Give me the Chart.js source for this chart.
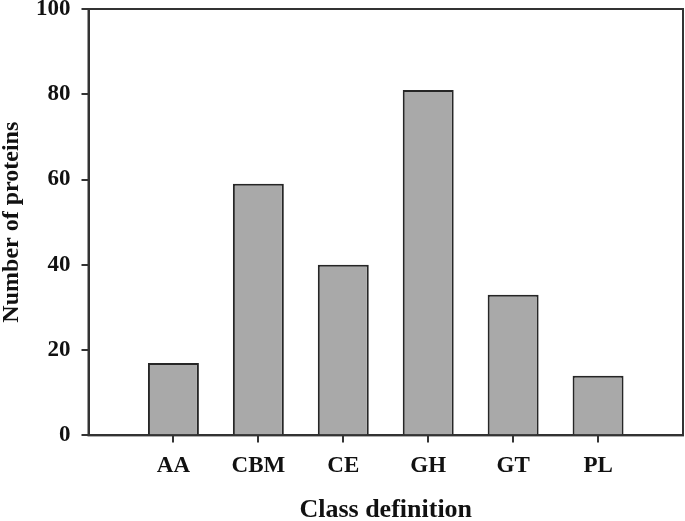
<!DOCTYPE html>
<html>
<head>
<meta charset="utf-8">
<script src="https://cdn.jsdelivr.net/npm/chart.js@4.4.1/dist/chart.umd.min.js"></script>
<style>
  html, body { margin: 0; padding: 0; background: #fff; }
  #wrap { width: 685px; height: 521px; }
</style>
</head>
<body>
<div id="wrap"><canvas id="classChart"></canvas></div>
<script>
// Class definition counts
var categories = ['AA', 'CBM', 'CE', 'GH', 'GT', 'PL'];
var proteinCounts = [17, 59, 40, 81, 33, 14];
var yTicks = [0, 20, 40, 60, 80, 100];

// empty slot on each side, like the original plot
var labels = [''].concat(categories, ['']);
var values = [null].concat(proteinCounts, [null]);

var serif = "'Liberation Serif', 'Times New Roman', serif";

// full box around the plot area
var frameBox = {
    id: 'frameBox',
    afterDatasetsDraw: function (chart) {
        var a = chart.chartArea;
        var ctx = chart.ctx;
        ctx.save();
        ctx.strokeStyle = '#333';
        ctx.lineWidth = 2;
        ctx.strokeRect(a.left, a.top, a.right - a.left, a.bottom - a.top);
        ctx.restore();
    }
};

var ctx = document.getElementById('classChart').getContext('2d');
var classChart = new Chart(ctx, {
    type: 'bar',
    data: {
        labels: labels,
        datasets: [{
            label: 'Number of proteins',
            data: values,
            backgroundColor: '#a9a9a9',
            borderColor: '#262626',
            borderWidth: 2,
            categoryPercentage: 1,
            barPercentage: 0.6
        }]
    },
    options: {
        responsive: true,
        maintainAspectRatio: false,
        animation: false,
        layout: { padding: { top: 9, right: 2, left: 0, bottom: 0 } },
        plugins: {
            legend: { display: false },
            tooltip: { enabled: false }
        },
        scales: {
            x: {
                type: 'category',
                offset: false,
                afterFit: function (s) { s.paddingLeft = 0; s.paddingRight = 0; },
                grid: {
                    offset: false,
                    drawOnChartArea: false,
                    tickLength: 7,
                    lineWidth: 2,
                    color: function (c) {
                        return (c.index === 0 || c.index === labels.length - 1) ? 'rgba(0,0,0,0)' : '#333';
                    }
                },
                border: { color: '#333', width: 2 },
                ticks: {
                    color: '#111',
                    padding: 10,
                    maxRotation: 0,
                    autoSkip: false,
                    font: { family: serif, size: 23, weight: 'bold' }
                },
                title: {
                    display: true,
                    text: 'Class definition',
                    color: '#111',
                    padding: { top: 7, bottom: -2 },
                    font: { family: serif, size: 26, weight: 'bold', lineHeight: 1 }
                }
            },
            y: {
                min: 0,
                max: 100,
                afterBuildTicks: function (axis) {
                    axis.ticks = yTicks.map(function (v) { return { value: v }; });
                },
                afterFit: function (s) { s.paddingTop = 0; s.paddingBottom = 0; },
                grid: {
                    drawOnChartArea: false,
                    tickLength: 7,
                    lineWidth: 2,
                    color: '#333'
                },
                border: { color: '#333', width: 2 },
                ticks: {
                    color: '#111',
                    padding: 11,
                    font: { family: serif, size: 23, weight: 'bold' }
                },
                title: {
                    display: true,
                    text: 'Number of proteins',
                    color: '#111',
                    padding: { top: 0, bottom: 1 },
                    font: { family: serif, size: 24, weight: 'bold', lineHeight: 1 }
                }
            }
        }
    },
    plugins: [frameBox]
});
</script>
</body>
</html>
